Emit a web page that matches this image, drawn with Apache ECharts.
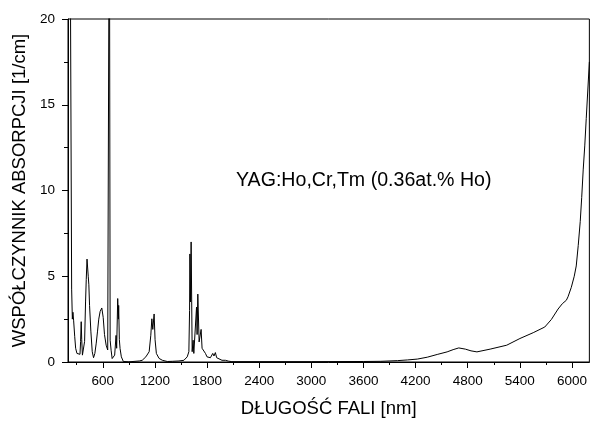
<!DOCTYPE html>
<html>
<head>
<meta charset="utf-8">
<script src="https://cdn.jsdelivr.net/npm/echarts@6/dist/echarts.min.js"></script>
<style>html,body{margin:0;padding:0;background:#fff;}#c{width:590px;height:423px;}</style>
</head>
<body>
<div id="c"></div>
<script>
// ---- data (wavelength nm, absorption coefficient 1/cm) ----
const visNm  = [215,228,242,250,257,265,277,288,303,322,338,345,352,358,366,380,391,402,410,419,425,433,440,448,463,479,494,509,525,540,554,570,589,605,620,639,657,669,676,678,685,696,708,722,737,753,760,772,780,783,791,799,814,837];
const visAbs = [30,22,4.25,2.5,2.9,2.4,1.5,0.8,0.5,0.4,0.45,1.2,2.35,1.3,0.4,0.35,1.2,3.5,4.8,6.0,5.9,5.0,4.5,3.3,1.8,0.6,0.25,0.5,1.1,1.8,2.5,2.95,3.15,2.6,1.6,0.98,0.7,0.8,30,30,1.27,0.69,0.2,0.1,0.4,1.55,0.8,3.7,2.5,3.3,1.3,0.79,0.3,0.03];
const nirNm  = [900,1020,1054,1096,1134,1153,1165,1176,1191,1202,1217,1248,1286,1343,1400,1477,1534,1572,1591,1599,1603,1610,1617,1629,1640,1648,1679,1686,1694,1709,1732,1743,1763,1782,1800,1820,1839,1866,1880,1896,1911,1934,1972,2011,2048,2086];
const nirAbs = [0.01,0.06,0.1,0.3,0.6,1.56,2.52,1.9,2.8,1.3,0.5,0.21,0.1,0.03,0.04,0.06,0.1,0.3,0.6,3.0,6.3,3.5,7.0,0.6,1.27,0.5,3.2,1.6,3.96,1.17,1.9,0.8,0.69,0.5,0.3,0.35,0.25,0.5,0.35,0.55,0.25,0.15,0.1,0.1,0.05,0.02];
const irNm   = [2400,3000,3600,3800,3992,4106,4220,4335,4449,4563,4632,4697,4773,4838,4906,5058,5249,5401,5554,5687,5763,5840,5889,5935,5954,5992,6026,6049,6072,6095,6112,6129,6147,6164,6200];
const irAbs  = [0.02,0.02,0.03,0.04,0.08,0.12,0.17,0.28,0.44,0.59,0.72,0.82,0.75,0.65,0.59,0.75,0.98,1.37,1.71,2.04,2.48,3.09,3.4,3.6,3.8,4.35,5.0,5.6,6.8,8.2,9.6,11.2,12.6,14.2,17.5];

const xMajorTicks = [600,1200,1800,2400,3000,3600,4200,4800,5400,6000];
const xMinorTicks = [300,900,1500,2100,2700,3300,3900,4500,5100,5700];

const annotation = 'YAG:Ho,Cr,Tm (0.36at.% Ho)';
const xTitle = 'DŁUGOŚĆ FALI [nm]';
const yTitle = 'WSPÓŁCZYNNIK ABSORPCJI [1/cm]';

// ---- build ----
const pairs = (a, b) => a.map((v, i) => [v, b[i]]);
const data = [].concat(pairs(visNm, visAbs), pairs(nirNm, nirAbs), pairs(irNm, irAbs));

const FONT = '"Liberation Sans", Arial, sans-serif';
const chart = echarts.init(document.getElementById('c'), null, {renderer: 'canvas'});
chart.setOption({
  animation: false,
  backgroundColor: '#fff',
  grid: {left: 68, top: 19, right: -3, bottom: 56, show: true, borderColor: '#000', borderWidth: 1},
  xAxis: [{
    type: 'value', min: 200, max: 6200,
    axisLine: {show: true, lineStyle: {color: '#000', width: 1}},
    axisTick: {show: true, length: 6, customValues: xMajorTicks, lineStyle: {color: '#000'}},
    axisLabel: {show: true, customValues: xMajorTicks, margin: 12, fontSize: 13.5, color: '#000', fontFamily: FONT,
      formatter: v => String(v)},
    splitLine: {show: false},
    name: xTitle, nameLocation: 'middle', nameGap: 37,
    nameTextStyle: {fontSize: 18.5, color: '#000', fontFamily: FONT}
  }, {
    type: 'value', min: 200, max: 6200, position: 'bottom',
    axisLine: {show: false},
    axisTick: {show: true, length: 3, customValues: xMinorTicks, lineStyle: {color: '#000'}},
    axisLabel: {show: false},
    splitLine: {show: false}
  }],
  yAxis: {
    type: 'value', min: 0, max: 20, interval: 5,
    axisLine: {show: true, lineStyle: {color: '#000', width: 1}},
    axisTick: {show: true, length: 6, lineStyle: {color: '#000'}},
    minorTick: {show: true, splitNumber: 2, length: 4, lineStyle: {color: '#000'}},
    axisLabel: {margin: 13, fontSize: 13.5, color: '#000', fontFamily: FONT},
    splitLine: {show: false},
    name: yTitle, nameLocation: 'middle', nameGap: 35, nameRotate: 90,
    nameTextStyle: {fontSize: 18.5, color: '#000', fontFamily: FONT}
  },
  series: [{
    type: 'line', xAxisIndex: 0, data: data, showSymbol: false, symbol: 'none',
    clip: true, lineStyle: {color: '#000', width: 1}, sampling: null
  }],
  graphic: [{
    type: 'text', left: 236, top: 171,
    style: {text: annotation, font: '19.6px ' + FONT, fill: '#000'}
  }]
});
</script>
</body>
</html>
